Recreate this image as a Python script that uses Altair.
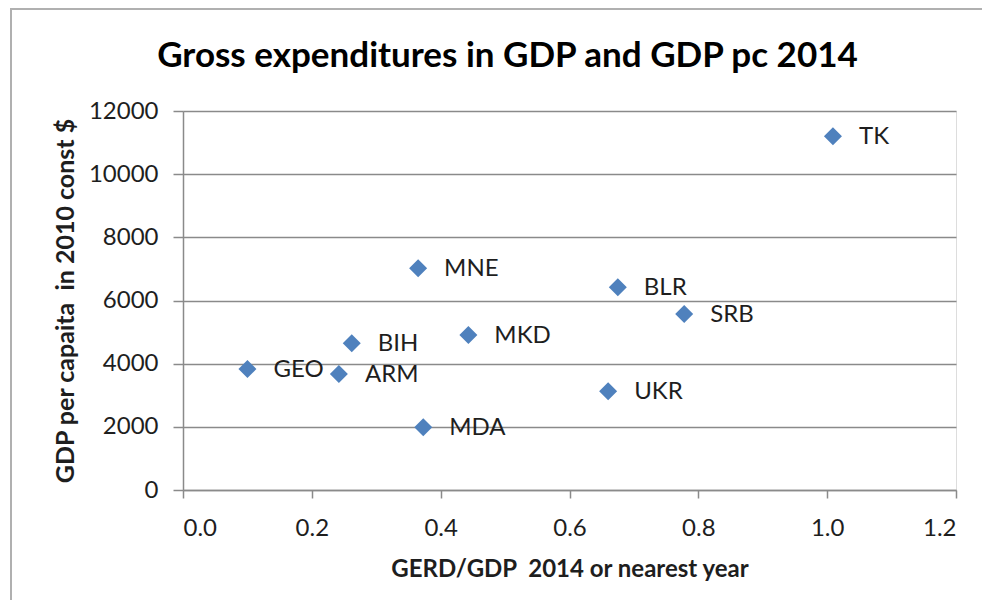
import altair as alt
import pandas as pd

countries = ["GEO", "ARM", "BIH", "MDA", "MNE", "MKD", "UKR", "BLR", "SRB", "TK"]
gerd = [0.10, 0.242, 0.262, 0.373, 0.365, 0.443, 0.660, 0.675, 0.778, 1.009]
gdp_pc = [3830, 3670, 4650, 1990, 7025, 4905, 3130, 6420, 5570, 11200]

df = pd.DataFrame({"country": countries, "gerd": gerd, "gdp": gdp_pc})

FONT = "Lato"
GRID = "#8a8a8a"
TEXT = "#1e1e1e"

x_enc = alt.X(
    "gerd:Q",
    scale=alt.Scale(domain=[0, 1.2], nice=False, zero=False),
    axis=alt.Axis(
        values=[0, 0.2, 0.4, 0.6, 0.8, 1.0, 1.2],
        format=".1f",
        grid=False,
        domainColor=GRID,
        domainWidth=1.5,
        tickColor=GRID,
        tickWidth=1.5,
        tickSize=8,
        labelFont=FONT,
        labelFontSize=24,
        labelColor=TEXT,
        labelPadding=18,
        title="GERD/GDP \u00a02014 or nearest year",
        titleFont=FONT,
        titleFontSize=24,
        titleFontWeight="bold",
        titleColor=TEXT,
        titlePadding=17,
    ),
)
y_enc = alt.Y(
    "gdp:Q",
    scale=alt.Scale(domain=[0, 12000], nice=False),
    axis=alt.Axis(
        values=[0, 2000, 4000, 6000, 8000, 10000, 12000],
        format="d",
        grid=True,
        gridColor=GRID,
        gridWidth=1.5,
        domainColor=GRID,
        domainWidth=1.5,
        tickColor=GRID,
        tickWidth=1.5,
        tickSize=10,
        labelFont=FONT,
        labelFontSize=24,
        labelColor=TEXT,
        labelPadding=15,
        title="GDP per capaita \u00a0in 2010 const $",
        titleFont=FONT,
        titleFontSize=25,
        titleFontWeight="bold",
        titleColor=TEXT,
        titlePadding=10,
    ),
)

base = alt.Chart(df)

points = base.mark_point(
    shape="diamond", filled=True, size=324, color="#4F81BD", opacity=1
).encode(x=x_enc, y=y_enc)

labels = base.mark_text(
    align="left", baseline="middle", dx=26, dy=1, font=FONT, fontSize=24, color=TEXT
).encode(x="gerd:Q", y="gdp:Q", text="country:N")

frame = alt.Chart(pd.DataFrame({"f": [0]})).mark_rect(
    fill=None, stroke="#b0b0b0", strokeWidth=2
).encode(
    x=alt.value(-172), x2=alt.value(900), y=alt.value(-102), y2=alt.value(700)
)

chart = (
    alt.layer(frame, points, labels)
    .properties(
        width=773,
        height=379,
        padding={"left": 175, "top": 103, "right": 26, "bottom": 110},
        autosize=alt.AutoSizeParams(type="none"),
        title=alt.TitleParams(
            "Gross expenditures in GDP and GDP pc 2014",
            font=FONT,
            fontSize=35,
            fontWeight="bold",
            color="#000000",
            anchor="middle",
            dx=-62,
            offset=-66,
        ),
    )
    .configure_view(stroke=None)
    .configure(background="white")
)

chart.save("out.html", embed_options={"renderer": "svg", "actions": False})
